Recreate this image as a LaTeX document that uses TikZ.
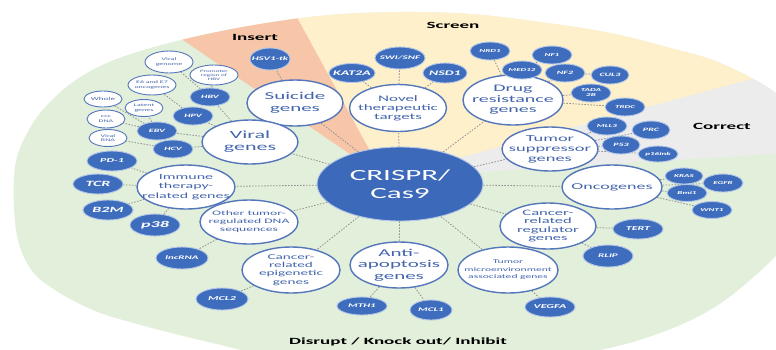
\documentclass[tikz,border=0pt]{standalone}
\usepackage{fontspec}
\setmainfont{Carlito}[FakeStretch=2.0]
\usetikzlibrary{shapes.geometric}
\definecolor{bggreen}{HTML}{E2EFDA}
\definecolor{inscol}{HTML}{F7C6A8}
\definecolor{scrcol}{HTML}{FFF0CC}
\definecolor{corcol}{HTML}{ECECEC}
\definecolor{catline}{HTML}{5476BA}
\definecolor{cattext}{HTML}{4365AE}
\definecolor{genefill}{HTML}{3E6DBE}
\definecolor{genehalo}{HTML}{B4C7E7}
\definecolor{crisprfill}{HTML}{3D69BA}
\definecolor{linkgray}{HTML}{8F8F8F}
\pgfdeclarelayer{bg}\pgfdeclarelayer{links}\pgfsetlayers{bg,links,main}
\newcommand\CN[8]{\node[cat,minimum width=#4pt,minimum height=#5pt] (#1) at (#2,#3) {};
 \node[cattxt,font=\fontsize{#6}{#7}\selectfont] (#1-t) at (#1) {#8};}
\newcommand\GN[7]{\node[gene,minimum width=#4pt,minimum height=#5pt] (#1) at (#2,#3) {};
 \node[genetxt,font=\bfseries\itshape\fontsize{#6}{\fpeval{1.1*#6}}\selectfont] (#1-t) at (#1) {#7};}
\newcommand\SN[7]{\node[sub,minimum width=#4pt,minimum height=#5pt] (#1) at (#2,#3) {};
 \node[subtxt,font=\fontsize{#6}{\fpeval{1.15*#6}}\selectfont] (#1-t) at (#1) {#7};}
\begin{document}
\begin{tikzpicture}[x=1pt,y=-1pt,
 cat/.style={ellipse,draw=catline,line width=1.4pt,fill=white,inner sep=0pt},
 cattxt/.style={text=cattext,align=center,inner sep=0pt},
 gene/.style={ellipse,draw=genehalo,line width=0.9pt,fill=genefill,inner sep=0pt},
 genetxt/.style={text=white,align=center,inner sep=0pt},
 sub/.style={ellipse,draw=catline,line width=0.9pt,fill=white,inner sep=0pt},
 subtxt/.style={text=cattext,align=center,inner sep=0pt},
 link/.style={draw=linkgray,line width=0.8pt,dash pattern=on 1.5pt off 1.5pt},
 sect/.style={font=\bfseries\fontsize{9.5}{11}\selectfont,text=black,inner sep=0pt}]
\useasboundingbox (0,0) rectangle (776,349);
\begin{pgfonlayer}{bg}
\fill[white] (0,0) rectangle (776,349);
\fill[bggreen] plot[smooth cycle,tension=0.6] coordinates {(15,167) (30,128) (52,100) (82,76) (122,57) (185,39) (260,24) (330,15) (400,12) (470,14) (540,22) (610,33) (670,48) (720,63) (776,93) (810,130) (820,190) (790,240) (750,280) (710,310) (660,333) (600,350) (500,366) (400,370) (300,362) (200,340) (130,322) (93,310) (55,290) (30,268) (16,230)};
\begin{scope}
\clip plot[smooth cycle,tension=0.6] coordinates {(15,167) (30,128) (52,100) (82,76) (122,57) (185,39) (260,24) (330,15) (400,12) (470,14) (540,22) (610,33) (670,48) (720,63) (776,93) (810,130) (820,190) (790,240) (750,280) (710,310) (660,333) (600,350) (500,366) (400,370) (300,362) (200,340) (130,322) (93,310) (55,290) (30,268) (16,230)};
\fill[inscol] (385,178) -- (-19,-98) -- (209,-144) -- cycle;
\fill[scrcol] (385,178) -- (209,-144) -- (900,-144) -- (900,39) -- cycle;
\fill[corcol] (385,178) -- (900,39) -- (900,146) -- cycle;
\end{scope}
\end{pgfonlayer}
% section labels
\node[sect] (ins) at (255,37) {Insert};
\node[sect] (scr) at (453,25) {Screen};
\node[sect] (cor) at (722,126) {Correct};
\node[sect] (dis) at (398,342) {Disrupt / Knock out/ Inhibit};
% centre
\node[ellipse,fill=crisprfill,draw=genehalo,line width=0.9pt,minimum width=166pt,minimum height=74pt,inner sep=0pt] (crispr) at (400,184) {};
\node[text=white,align=center,inner sep=0pt,font=\fontsize{15.5}{18}\selectfont] (crispr-t) at (crispr) {CRISPR/\\Cas9};
% categories
\CN{sui}{295}{103}{96}{46}{10.5}{11.5}{Suicide\\genes}
\CN{nov}{398}{108}{97}{47}{8.5}{9.2}{Novel\\therapeutic\\targets}
\CN{drug}{513}{100}{100}{50}{10}{10.5}{Drug\\resistance\\genes}
\CN{tsup}{550}{149}{96}{44}{9.2}{10}{Tumor\\suppressor\\genes}
\CN{onc}{612}{187}{100}{44}{9}{10}{Oncogenes}
\CN{reg}{548}{226}{96}{46}{8.3}{8.6}{Cancer-\\related\\regulator\\genes}
\CN{tme}{508}{270}{100}{46}{5.8}{7.5}{Tumor\\microenvironment\\associated genes}
\CN{anti}{399}{265}{98}{46}{10.5}{11.5}{Anti-\\apoptosis\\genes}
\CN{epi}{291}{270}{98}{46}{7.6}{8.2}{Cancer-\\related\\epigenetic\\genes}
\CN{oth}{249}{222}{98}{44}{6.8}{8}{Other tumor-\\regulated DNA\\sequences}
\CN{imm}{186}{187}{98}{44}{8}{9.5}{Immune\\therapy-\\related genes}
\CN{vir}{250}{142}{96}{44}{11}{12}{Viral\\genes}
% genes
\GN{hsv}{270}{59}{40}{22}{5.5}{HSV1-tk}
\GN{kat}{352}{73}{46}{19}{7}{KAT2A}
\GN{swi}{400}{58}{50}{22}{5.5}{SWI/SNF}
\GN{nsd}{445}{73}{44}{20}{7}{NSD1}
\GN{nrd}{490}{51}{40}{18}{4.5}{NRD1}
\GN{nf1}{552}{55}{40}{18}{4.5}{NF1}
\GN{med}{522}{70}{40}{18}{4.5}{MED12}
\GN{nf2}{565}{73}{40}{18}{5}{NF2}
\GN{cul}{610}{75}{38}{18}{5}{CUL3}
\GN{tada}{591}{93}{40}{18}{4.5}{TADA\\2B}
\GN{trdc}{625}{107}{40}{18}{4.5}{TRDC}
\GN{mll}{607}{126}{40}{18}{4.5}{MLL3}
\GN{prc}{651}{130}{38}{18}{5}{PRC}
\GN{p53}{621}{145}{38}{18}{5}{P53}
\GN{p16}{658}{154}{40}{16}{4.5}{p16ink}
\GN{kras}{684}{176}{38}{16}{4.5}{KRAS}
\GN{egfr}{723}{183}{40}{18}{4.5}{EGFR}
\GN{bmi}{687}{193}{40}{17}{4.5}{Bmi1}
\GN{wnt}{712}{210}{40}{17}{4.5}{WNT1}
\GN{tert}{638}{229}{50}{20}{6}{TERT}
\GN{rlip}{608}{256}{50}{22}{5.5}{RLIP}
\GN{vegfa}{550}{307}{50}{20}{6}{VEGFA}
\GN{mth}{362}{306}{50}{18}{5.5}{MTH1}
\GN{mclone}{431}{310}{42}{20}{5.5}{MCL1}
\GN{mcltwo}{222}{299}{52}{22}{6}{MCL2}
\GN{lnc}{182}{258}{52}{22}{5.5}{lncRNA}
\GN{pd}{112}{161}{50}{20}{6}{PD-1}
\GN{tcr}{98}{184}{50}{20}{8}{TCR}
\GN{btm}{108}{210}{50}{20}{8}{B2M}
\GN{pte}{155}{225}{50}{22}{9}{p38}
\GN{hbv}{210}{97}{40}{18}{5}{HBV}
\GN{hpv}{193}{116}{40}{18}{5}{HPV}
\GN{ebv}{157}{131}{40}{18}{5}{EBV}
\GN{hcv}{173}{149}{40}{18}{5}{HCV}
% viral sub items
\SN{vg}{169}{62}{48}{22}{4}{Viral\\genome}
\SN{prom}{214}{75}{48}{20}{3.6}{Promoter\\region of\\HBV}
\SN{esix}{152}{85}{48}{20}{4}{E6 and E7\\oncogenes}
\SN{lat}{144}{108}{38}{17}{4}{Latent\\genes}
\SN{who}{103}{99}{38}{16}{4.5}{Whole}
\SN{ccc}{106}{119}{38}{18}{4}{ccc\\DNA}
\SN{vrna}{108}{138}{38}{17}{4}{Viral\\RNA}
% connectors
\begin{pgfonlayer}{links}
\foreach \c in {sui,nov,drug,tsup,onc,reg,tme,anti,epi,oth,imm,vir}
  \draw[link] (crispr) -- (\c);
\draw[link] (sui) -- (hsv);
\foreach \c in {kat,swi,nsd} \draw[link] (nov) -- (\c);
\foreach \c in {nrd,med,nf2,tada,trdc} \draw[link] (drug) -- (\c);
\draw[link] (med) -- (nf1);
\draw[link] (nf2) -- (cul);
\foreach \c in {mll,prc,p53,p16} \draw[link] (tsup) -- (\c);
\foreach \c in {kras,egfr,bmi,wnt} \draw[link] (onc) -- (\c);
\foreach \c in {tert,rlip} \draw[link] (reg) -- (\c);
\draw[link] (tme) -- (vegfa);
\foreach \c in {mth,mclone} \draw[link] (anti) -- (\c);
\draw[link] (epi) -- (mcltwo);
\draw[link] (oth) -- (lnc);
\foreach \c in {pd,tcr,btm,pte} \draw[link] (imm) -- (\c);
\foreach \c in {hbv,hpv,ebv,hcv} \draw[link] (vir) -- (\c);
\draw[link] (hbv) -- (vg);
\draw[link] (hbv) -- (prom);
\draw[link] (hpv) -- (esix);
\draw[link] (ebv) -- (lat);
\draw[link] (ebv) -- (who);
\draw[link] (ebv) -- (ccc);
\draw[link] (hcv) -- (vrna);
\end{pgfonlayer}
\end{tikzpicture}
\end{document}
